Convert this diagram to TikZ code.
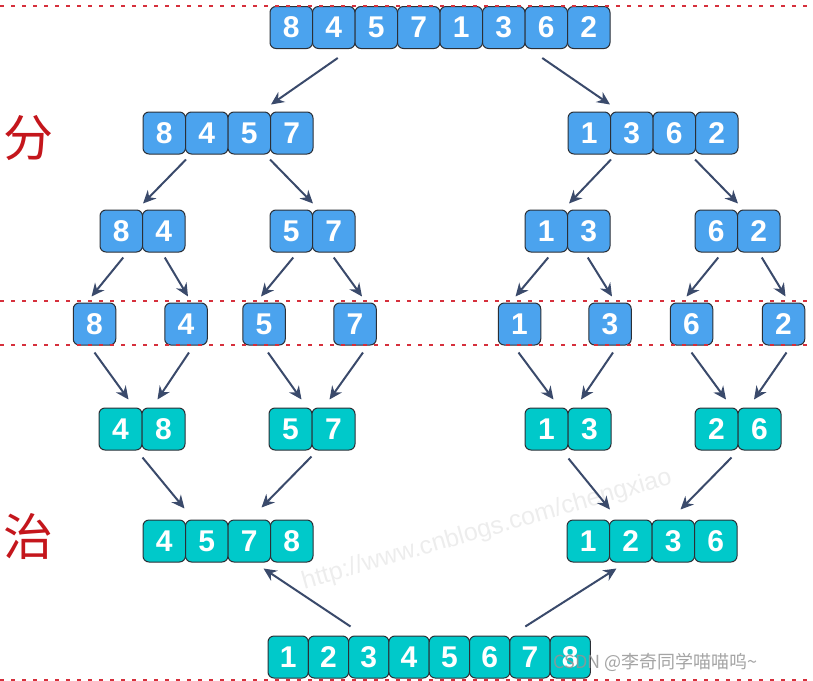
\documentclass[tikz,border=0pt]{standalone}
\usepackage{fontspec}
\setmainfont{Liberation Sans}
\newfontfamily\dfont{Liberation Sans}[BoldFont={Liberation Sans Bold}]
\newfontfamily\cjk{Noto Sans CJK SC}
\usetikzlibrary{arrows.meta,calc}
\definecolor{cblue}{HTML}{4BA3EE}
\definecolor{cteal}{HTML}{00C9CA}
\definecolor{cedge}{HTML}{2B2F36}
\definecolor{carrow}{HTML}{3A4A6B}
\definecolor{cdash}{HTML}{D6303C}
\definecolor{cchar}{HTML}{C4161C}
\newcommand{\cellrow}[6]{%
  \foreach \d [count=\i] in {#6} {%
    \node[#5, minimum width=#4pt] (#1-\i) at ({#2+#4*(\i-0.5)},#3) {\d};}}
\begin{document}
\begin{tikzpicture}[x=1pt,y=-1pt,
  cell/.style={draw=cedge, line width=1pt, rounded corners=6pt, minimum height=42pt,
    inner sep=0pt, text=white, font=\dfont\bfseries\fontsize{30}{30}\selectfont},
  bcell/.style={cell, fill=cblue},
  tcell/.style={cell, fill=cteal},
  arr/.style={draw=carrow, line width=2pt, -{Stealth[length=13pt,width=12pt]}},
  sep/.style={draw=cdash, line width=2pt, dash pattern=on 4pt off 7pt},
  ]
\useasboundingbox (0,0) rectangle (813,680);
% watermark
\node[rotate=16, text=black!7, font=\fontsize{25}{25}\selectfont] (wm) at (487,530) {http://www.cnblogs.com/chengxiao};
% side characters
\node[text=cchar, font=\cjk\fontsize{50}{50}\selectfont] (fen) at (29,138) {分};
\node[text=cchar, font=\cjk\fontsize{50}{50}\selectfont] (zhi) at (28,536) {治};
% rows
\cellrow{top}{270}{27.5}{42.5}{bcell}{8,4,5,7,1,3,6,2}
\cellrow{La}{143}{133}{42.5}{bcell}{8,4,5,7}
\cellrow{Ra}{568}{133}{42.5}{bcell}{1,3,6,2}
\cellrow{Lb}{100}{231}{42.5}{bcell}{8,4}
\cellrow{Lc}{270}{231}{42.5}{bcell}{5,7}
\cellrow{Rb}{525}{231}{42.5}{bcell}{1,3}
\cellrow{Rc}{695}{231}{42.5}{bcell}{6,2}
\node[bcell, minimum width=42.5pt] (s1) at (94.5,324) {8};
\node[bcell, minimum width=42.5pt] (s2) at (186,324) {4};
\node[bcell, minimum width=42.5pt] (s3) at (264,324) {5};
\node[bcell, minimum width=42.5pt] (s4) at (355,324) {7};
\node[bcell, minimum width=42.5pt] (s5) at (519.5,324) {1};
\node[bcell, minimum width=42.5pt] (s6) at (610,324) {3};
\node[bcell, minimum width=42.5pt] (s7) at (691.5,324) {6};
\node[bcell, minimum width=42.5pt] (s8) at (783.5,324) {2};
\cellrow{Ld}{99}{429}{43}{tcell}{4,8}
\cellrow{Le}{269}{429}{43}{tcell}{5,7}
\cellrow{Rd}{525}{429}{43}{tcell}{1,3}
\cellrow{Re}{695}{429}{43}{tcell}{2,6}
\cellrow{Lf}{143}{541}{42.5}{tcell}{4,5,7,8}
\cellrow{Rf}{567}{541}{42.5}{tcell}{1,2,3,6}
\cellrow{bot}{268}{657}{40.3}{tcell}{1,2,3,4,5,6,7,8}
% arrows: divide
\draw[arr] ($(top-2.south)+(4,9)$) -- ($(La-4.north west)+(1,-7)$);
\draw[arr] ($(top-7.south)+(-4,9)$) -- ($(Ra-1.north east)+(-1,-7)$);
\draw[arr] ($(La-1.south east)+(0,5)$) -- ($(Lb-1.north east)+(0,-6)$);
\draw[arr] ($(La-3.south east)+(-1,5)$) -- ($(Lc-1.north east)+(0,-6)$);
\draw[arr] ($(Ra-1.south east)+(0,5)$) -- ($(Rb-1.north east)+(1,-6)$);
\draw[arr] ($(Ra-3.south east)+(-1,5)$) -- ($(Rc-1.north east)+(0,-6)$);
\draw[arr] ($(Lb-1.south)+(2,5)$) -- ($(s1.north)+(-3,-6)$);
\draw[arr] ($(Lb-2.south)+(1,5)$) -- ($(s2.north)+(2,-6)$);
\draw[arr] ($(Lc-1.south)+(2,5)$) -- ($(s3.north)+(-3,-6)$);
\draw[arr] ($(Lc-2.south)+(0,5)$) -- ($(s4.north)+(7,-6)$);
\draw[arr] ($(Rb-1.south)+(2,5)$) -- ($(s5.north)+(-4,-6)$);
\draw[arr] ($(Rb-2.south)+(-1,5)$) -- ($(s6.north)+(2,-6)$);
\draw[arr] ($(Rc-1.south)+(2,5)$) -- ($(s7.north)+(-5,-6)$);
\draw[arr] ($(Rc-2.south)+(3,5)$) -- ($(s8.north)+(2,-6)$);
% arrows: merge
\draw[arr] ($(s1.south)+(0,7)$) -- ($(Ld-1.north east)+(-14,-8)$);
\draw[arr] ($(s2.south)+(3,7)$) -- ($(Ld-1.north east)+(15,-8)$);
\draw[arr] ($(s3.south)+(4,7)$) -- ($(Le-1.north east)+(-11,-8)$);
\draw[arr] ($(s4.south)+(8,7)$) -- ($(Le-1.north east)+(17,-8)$);
\draw[arr] ($(s5.south)+(-1,7)$) -- ($(Rd-1.north east)+(-15,-8)$);
\draw[arr] ($(s6.south)+(3,7)$) -- ($(Rd-1.north east)+(12.5,-8)$);
\draw[arr] ($(s7.south)+(0,7)$) -- ($(Re-1.north east)+(-12.5,-8)$);
\draw[arr] ($(s8.south)+(3,7)$) -- ($(Re-1.north east)+(15.5,-8)$);
\draw[arr] ($(Ld-1.south east)+(0,7)$) -- ($(Lf-1.north east)+(-1.5,-11)$);
\draw[arr] ($(Le-1.south east)+(-1,6)$) -- ($(Lf-4.north west)+(-8.5,-12)$);
\draw[arr] ($(Rd-1.south east)+(0,8)$) -- ($(Rf-1.north east)+(0,-10)$);
\draw[arr] ($(Re-1.south east)+(-7,7)$) -- ($(Rf-4.north west)+(-13.5,-10)$);
\draw[arr] ($(bot-3.north west)+(2.4,-9)$) -- ($(Lf-3.south east)+(-7.5,6)$);
\draw[arr] ($(bot-7.north west)+(16,-9)$) -- ($(Rf-1.south east)+(6.5,6)$);
% separators
\draw[sep] (0,5.5) -- (813,5.5);
\draw[sep] (0,301) -- (813,301);
\draw[sep] (0,345) -- (813,345);
\draw[sep] (0,679.5) -- (813,679.5);
% CSDN watermark
\node[anchor=west, text=black!42, text opacity=0.85, font=\cjk\fontsize{18}{18}\selectfont] (csdn) at (550,662) {CSDN @李奇同学喵喵呜\textasciitilde};
\end{tikzpicture}
\end{document}
